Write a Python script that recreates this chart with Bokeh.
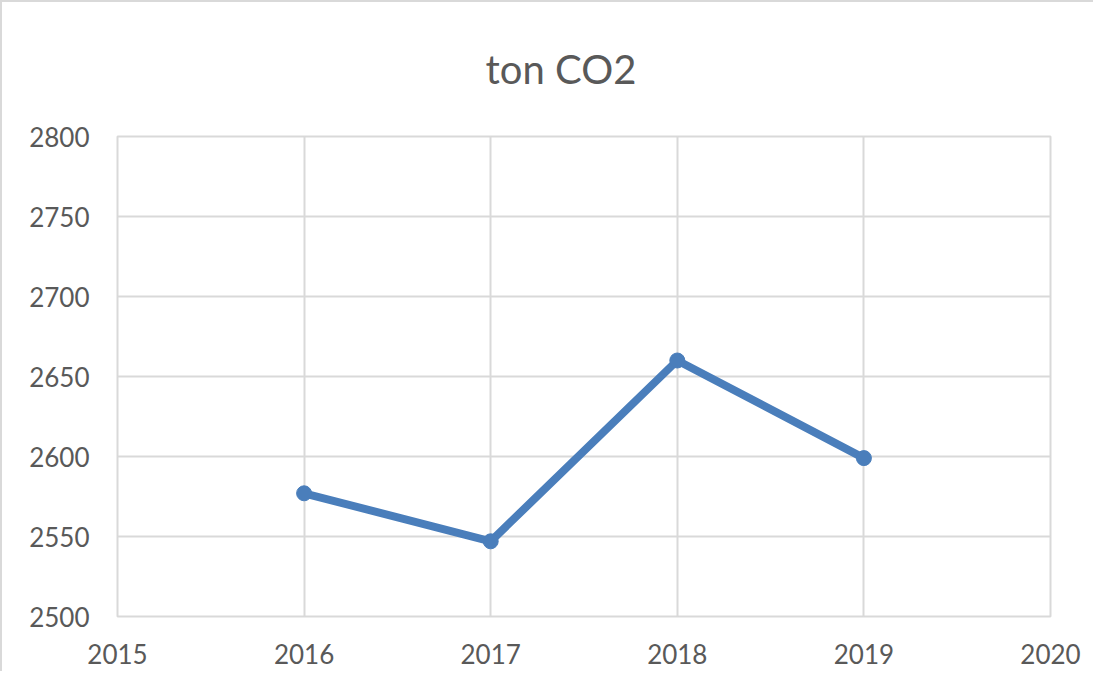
from bokeh.plotting import figure
from bokeh.models import FixedTicker, Range1d
from bokeh.embed import file_html
from bokeh.resources import INLINE

# Data
years = [2016, 2017, 2018, 2019]
tons = [2577, 2547, 2660, 2599]
x_ticks = [2015, 2016, 2017, 2018, 2019, 2020]
y_ticks = [2500, 2550, 2600, 2650, 2700, 2750, 2800]
title_text = "ton CO2"

FONT = "Lato"
GRID = "#d9d9d9"
TEXT = "#595959"
LINE = "#4a7ebb"

p = figure(width=1093, height=671, output_backend="svg", toolbar_location=None,
           x_range=Range1d(x_ticks[0], x_ticks[-1]), y_range=Range1d(y_ticks[0], y_ticks[-1]),
           min_border_left=115, min_border_right=45, min_border_top=128, min_border_bottom=57,
           title=title_text)
p.styles = {"border-left": "2px solid #d9d9d9", "border-top": "2px solid #d9d9d9"}

p.title.align = "left"
p.title.vertical_align = "top"
p.title.offset = 368
p.title.standoff = 84
p.title.text_font = FONT
p.title.text_font_size = "40px"
p.title.text_font_style = "normal"
p.title.text_color = TEXT

p.background_fill_color = "white"
p.border_fill_color = "white"
p.outline_line_color = GRID
p.outline_line_width = 2

p.xaxis.ticker = FixedTicker(ticks=x_ticks)
p.yaxis.ticker = FixedTicker(ticks=y_ticks)
for ax in (p.xaxis, p.yaxis):
    ax.major_tick_line_color = None
    ax.minor_tick_line_color = None
    ax.axis_line_color = None
    ax.major_label_text_font = FONT
    ax.major_label_text_font_size = "26px"
    ax.major_label_text_color = TEXT
p.xaxis.major_label_standoff = 21
p.yaxis.major_label_standoff = 22

p.xgrid.ticker = FixedTicker(ticks=x_ticks)
p.ygrid.ticker = FixedTicker(ticks=y_ticks)
p.xgrid.grid_line_color = GRID
p.ygrid.grid_line_color = GRID
p.xgrid.grid_line_width = 2
p.ygrid.grid_line_width = 2

p.line(years, tons, line_color=LINE, line_width=8, line_join="round", line_cap="round")
p.scatter(years, tons, size=15, fill_color=LINE, line_color=LINE)

open("out.html", "w").write(file_html(p, INLINE))
